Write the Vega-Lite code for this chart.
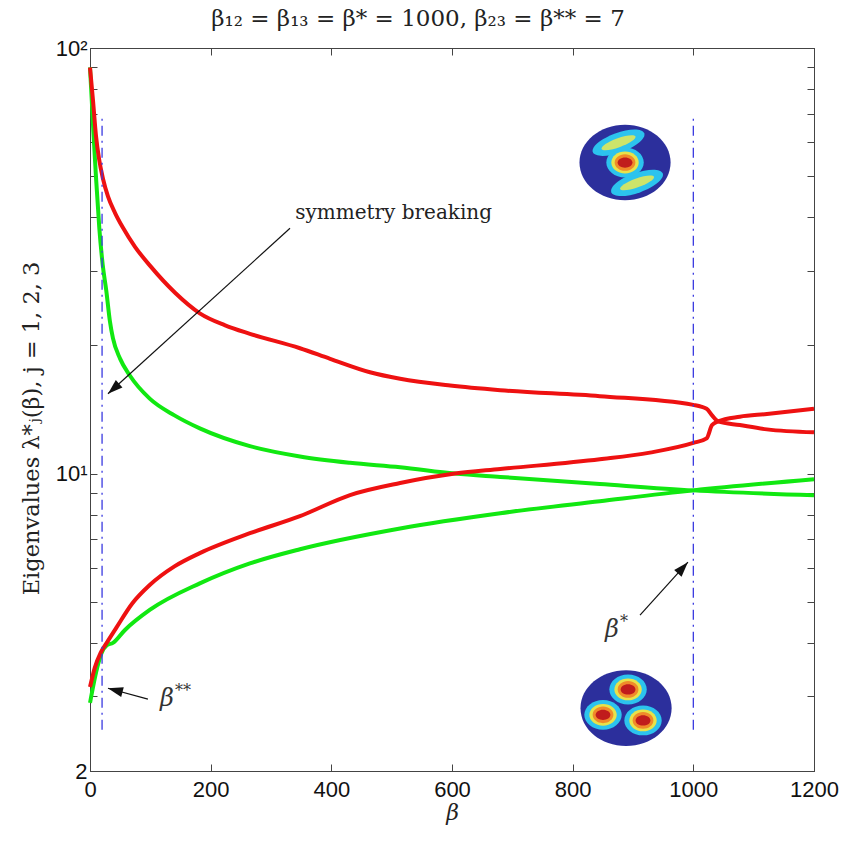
{
  "$schema": "https://vega.github.io/schema/vega-lite/v6.json",
  "width": 724,
  "height": 723,
  "autosize": "none",
  "padding": {"left": 90, "top": 48, "right": 32, "bottom": 70},
  "background": "white",
  "config": {
    "view": {"stroke": "#444", "strokeWidth": 1},
    "axis": {"grid": false, "domainColor": "#444", "tickColor": "#444", "labelColor": "#111", "labelFont": "Liberation Sans", "labelFontSize": 22, "labelFlush": false, "titleColor": "#222", "titleFontWeight": "normal"}
  },
  "title": {"text": "β₁₂ = β₁₃ = β* = 1000, β₂₃ = β** = 7", "font": "DejaVu Serif", "fontSize": 23, "fontWeight": "normal", "color": "#222", "anchor": "middle", "dx": -34, "offset": 6},
  "resolve": {"axis": {"x": "independent", "y": "independent"}},
  "layer": [
    {
      "data": {"values": [
        {"s": "g2", "beta": 0, "v": 2.89}, {"s": "g2", "beta": 5, "v": 3.15}, {"s": "g2", "beta": 12, "v": 3.5}, {"s": "g2", "beta": 19, "v": 3.78}, {"s": "g2", "beta": 28, "v": 3.95}, {"s": "g2", "beta": 38, "v": 4.0}, {"s": "g2", "beta": 58, "v": 4.29}, {"s": "g2", "beta": 99, "v": 4.78}, {"s": "g2", "beta": 182, "v": 5.52}, {"s": "g2", "beta": 265, "v": 6.15}, {"s": "g2", "beta": 348, "v": 6.64}, {"s": "g2", "beta": 514, "v": 7.43}, {"s": "g2", "beta": 680, "v": 8.07}, {"s": "g2", "beta": 845, "v": 8.61}, {"s": "g2", "beta": 1000, "v": 9.13}, {"s": "g2", "beta": 1200, "v": 9.7},
        {"s": "g1", "beta": 0, "v": 90}, {"s": "g1", "beta": 3, "v": 75}, {"s": "g1", "beta": 5.5, "v": 63.9}, {"s": "g1", "beta": 10, "v": 49.6}, {"s": "g1", "beta": 15.4, "v": 37.8}, {"s": "g1", "beta": 21, "v": 31}, {"s": "g1", "beta": 27, "v": 26.9}, {"s": "g1", "beta": 33, "v": 22.8}, {"s": "g1", "beta": 38, "v": 20.8}, {"s": "g1", "beta": 50, "v": 18.6}, {"s": "g1", "beta": 66, "v": 17.0}, {"s": "g1", "beta": 99, "v": 15.0}, {"s": "g1", "beta": 140, "v": 13.7}, {"s": "g1", "beta": 182, "v": 12.77}, {"s": "g1", "beta": 265, "v": 11.6}, {"s": "g1", "beta": 348, "v": 10.97}, {"s": "g1", "beta": 431, "v": 10.6}, {"s": "g1", "beta": 514, "v": 10.35}, {"s": "g1", "beta": 605, "v": 10.0}, {"s": "g1", "beta": 680, "v": 9.82}, {"s": "g1", "beta": 845, "v": 9.45}, {"s": "g1", "beta": 1000, "v": 9.13}, {"s": "g1", "beta": 1200, "v": 8.89},
        {"s": "r2", "beta": 0, "v": 3.15}, {"s": "r2", "beta": 8, "v": 3.5}, {"s": "r2", "beta": 18, "v": 3.8}, {"s": "r2", "beta": 30, "v": 4.05}, {"s": "r2", "beta": 44, "v": 4.35}, {"s": "r2", "beta": 70, "v": 4.95}, {"s": "r2", "beta": 99, "v": 5.47}, {"s": "r2", "beta": 140, "v": 6.05}, {"s": "r2", "beta": 182, "v": 6.5}, {"s": "r2", "beta": 265, "v": 7.24}, {"s": "r2", "beta": 348, "v": 7.94}, {"s": "r2", "beta": 431, "v": 8.9}, {"s": "r2", "beta": 514, "v": 9.5}, {"s": "r2", "beta": 605, "v": 10.0}, {"s": "r2", "beta": 680, "v": 10.25}, {"s": "r2", "beta": 845, "v": 10.8}, {"s": "r2", "beta": 928, "v": 11.2}, {"s": "r2", "beta": 1000, "v": 11.8}, {"s": "r2", "beta": 1022, "v": 12.1}, {"s": "r2", "beta": 1031, "v": 13.0}, {"s": "r2", "beta": 1041, "v": 13.26}, {"s": "r2", "beta": 1077, "v": 13.6}, {"s": "r2", "beta": 1122, "v": 13.8}, {"s": "r2", "beta": 1200, "v": 14.2},
        {"s": "r1", "beta": 0, "v": 90}, {"s": "r1", "beta": 5, "v": 75.2}, {"s": "r1", "beta": 9.9, "v": 62.2}, {"s": "r1", "beta": 14.9, "v": 55.0}, {"s": "r1", "beta": 21.5, "v": 49.3}, {"s": "r1", "beta": 29.8, "v": 44.8}, {"s": "r1", "beta": 41.4, "v": 41.0}, {"s": "r1", "beta": 54.7, "v": 37.8}, {"s": "r1", "beta": 74.6, "v": 34.1}, {"s": "r1", "beta": 99.4, "v": 30.8}, {"s": "r1", "beta": 141, "v": 26.6}, {"s": "r1", "beta": 182, "v": 23.8}, {"s": "r1", "beta": 224, "v": 22.3}, {"s": "r1", "beta": 265, "v": 21.3}, {"s": "r1", "beta": 348, "v": 19.7}, {"s": "r1", "beta": 398, "v": 18.6}, {"s": "r1", "beta": 464, "v": 17.3}, {"s": "r1", "beta": 514, "v": 16.7}, {"s": "r1", "beta": 597, "v": 16.1}, {"s": "r1", "beta": 680, "v": 15.7}, {"s": "r1", "beta": 845, "v": 15.2}, {"s": "r1", "beta": 1000, "v": 14.5}, {"s": "r1", "beta": 1022, "v": 14.2}, {"s": "r1", "beta": 1031, "v": 13.7}, {"s": "r1", "beta": 1041, "v": 13.26}, {"s": "r1", "beta": 1077, "v": 13.0}, {"s": "r1", "beta": 1122, "v": 12.7}, {"s": "r1", "beta": 1200, "v": 12.5}
      ]},
      "mark": {"type": "line", "strokeWidth": 4, "interpolate": "monotone"},
      "encoding": {
        "x": {"field": "beta", "type": "quantitative", "scale": {"domain": [0, 1200], "nice": false}, "axis": {"orient": "bottom", "values": [0, 200, 400, 600, 800, 1000, 1200], "format": "d", "tickSize": -7, "labelPadding": 15, "labelFontSize": 22, "labelFlush": false, "title": "β", "titleFont": "DejaVu Serif", "titleFontStyle": "italic", "titleFontSize": 22, "titlePadding": 2}},
        "y": {"field": "v", "type": "quantitative", "scale": {"type": "log", "domain": [2, 100], "nice": false}, "axis": {"orient": "left", "values": [2, 3, 4, 5, 6, 7, 8, 9, 10, 20, 30, 40, 50, 60, 70, 80, 90, 100], "tickSize": -7, "labelPadding": 10, "labelFontSize": 22, "labelFlush": false, "labelExpr": "datum.value == 100 ? '10²' : datum.value == 10 ? '10¹' : datum.value == 2 ? '2' : ''", "title": "Eigenvalues λ*ⱼ(β), j = 1, 2, 3", "titleFont": "DejaVu Serif", "titleFontSize": 22.5, "titlePadding": 12, "titleY": 380}},
        "color": {"field": "s", "type": "nominal", "scale": {"domain": ["g2", "g1", "r2", "r1"], "range": ["#11e811", "#11e811", "#ee1111", "#ee1111"]}, "legend": null},
        "order": {"field": "beta", "type": "quantitative"}
      }
    },
    {
      "data": {"values": [{"beta": 20, "lo": 2.5, "hi": 69}, {"beta": 1000, "lo": 2.5, "hi": 69}]},
      "mark": {"type": "rule", "color": "#3a3ae0", "strokeWidth": 1.3, "strokeDash": [10, 5, 2, 5]},
      "encoding": {
        "x": {"field": "beta", "type": "quantitative", "axis": {"orient": "top", "values": [0, 200, 400, 600, 800, 1000, 1200], "tickSize": -7, "labels": false, "title": null}},
        "y": {"field": "lo", "type": "quantitative", "axis": {"orient": "right", "values": [2, 3, 4, 5, 6, 7, 8, 9, 10, 20, 30, 40, 50, 60, 70, 80, 90, 100], "tickSize": -7, "labels": false, "title": null}},
        "y2": {"field": "hi"}
      }
    },
    {
      "data": {"values": [{"x1": 331.5, "y1": 37.7, "x2": 29.8, "y2": 15.4}, {"x1": 96, "y1": 2.95, "x2": 29.8, "y2": 3.13}, {"x1": 911.6, "y1": 4.65, "x2": 991, "y2": 6.19}]},
      "mark": {"type": "rule", "color": "#111", "strokeWidth": 1.2},
      "encoding": {
        "x": {"field": "x1", "type": "quantitative", "axis": null},
        "y": {"field": "y1", "type": "quantitative", "axis": null},
        "x2": {"field": "x2"},
        "y2": {"field": "y2"}
      }
    },
    {
      "data": {"values": [{"x": 29.8, "y": 15.4, "ang": 228}, {"x": 29.8, "y": 3.13, "ang": 285}, {"x": 991, "y": 6.19, "ang": 42}]},
      "mark": {"type": "point", "filled": true, "opacity": 1, "color": "#111", "size": 900, "shape": "M0,0L-0.33,1L0.33,1Z"},
      "encoding": {
        "x": {"field": "x", "type": "quantitative", "axis": null},
        "y": {"field": "y", "type": "quantitative", "axis": null},
        "angle": {"field": "ang", "type": "quantitative", "scale": null}
      }
    },
    {
      "data": {"values": [{"x": 340, "y": 39.7, "t": "symmetry breaking"}]},
      "mark": {"type": "text", "align": "left", "baseline": "alphabetic", "font": "DejaVu Serif", "fontSize": 20, "color": "#222"},
      "encoding": {
        "x": {"field": "x", "type": "quantitative", "axis": null},
        "y": {"field": "y", "type": "quantitative", "axis": null},
        "text": {"field": "t"}
      }
    },
    {
      "data": {"values": [{"x": 116, "y": 2.84, "t": "β"}, {"x": 853.6, "y": 4.13, "t": "β"}]},
      "mark": {"type": "text", "align": "left", "baseline": "alphabetic", "font": "DejaVu Serif", "fontStyle": "italic", "fontSize": 24, "color": "#333"},
      "encoding": {
        "x": {"field": "x", "type": "quantitative", "axis": null},
        "y": {"field": "y", "type": "quantitative", "axis": null},
        "text": {"field": "t"}
      }
    },
    {
      "data": {"values": [{"x": 116, "y": 2.84, "t": "**"}, {"x": 853.6, "y": 4.13, "t": "*"}]},
      "mark": {"type": "text", "align": "left", "baseline": "alphabetic", "font": "DejaVu Serif", "fontSize": 16, "color": "#333", "dx": 15, "dy": -10},
      "encoding": {
        "x": {"field": "x", "type": "quantitative", "axis": null},
        "y": {"field": "y", "type": "quantitative", "axis": null},
        "text": {"field": "t"}
      }
    },
    {
      "data": {"values": [{"x": 886.8, "y": 53.8}, {"x": 888.5, "y": 2.81}]},
      "mark": {"type": "point", "filled": true, "opacity": 1, "color": "#2c2f9c", "size": 8300, "shape": "M-1,0A1,0.83,0,1,1,1,0A1,0.83,0,1,1,-1,0Z"},
      "encoding": {
        "x": {"field": "x", "type": "quantitative", "axis": null},
        "y": {"field": "y", "type": "quantitative", "axis": null}
      }
    },
    {
      "data": {"values": [{"x": 876, "y": 59.9}, {"x": 906.7, "y": 48.2}]},
      "mark": {"type": "point", "filled": true, "opacity": 1, "color": "#2cc3ee", "size": 3000, "angle": -20, "shape": "M-1,0A1,0.36,0,1,1,1,0A1,0.36,0,1,1,-1,0Z"},
      "encoding": {
        "x": {"field": "x", "type": "quantitative", "axis": null},
        "y": {"field": "y", "type": "quantitative", "axis": null}
      }
    },
    {
      "data": {"values": [{"x": 876, "y": 59.9}, {"x": 906.7, "y": 48.2}]},
      "mark": {"type": "point", "filled": true, "opacity": 1, "color": "#cde46a", "size": 1300, "angle": -20, "shape": "M-1,0A1,0.25,0,1,1,1,0A1,0.25,0,1,1,-1,0Z"},
      "encoding": {
        "x": {"field": "x", "type": "quantitative", "axis": null},
        "y": {"field": "y", "type": "quantitative", "axis": null}
      }
    },
    {
      "data": {"values": [{"x": 886.8, "y": 53.8}, {"x": 891.8, "y": 3.11}, {"x": 850.3, "y": 2.71}, {"x": 916.6, "y": 2.63}]},
      "mark": {"type": "point", "filled": true, "opacity": 1, "color": "#2cc3ee", "size": 1400, "shape": "M-1,0A1,0.8,0,1,1,1,0A1,0.8,0,1,1,-1,0Z"},
      "encoding": {
        "x": {"field": "x", "type": "quantitative", "axis": null},
        "y": {"field": "y", "type": "quantitative", "axis": null}
      }
    },
    {
      "data": {"values": [{"x": 886.8, "y": 53.8}, {"x": 891.8, "y": 3.11}, {"x": 850.3, "y": 2.71}, {"x": 916.6, "y": 2.63}]},
      "mark": {"type": "point", "filled": true, "opacity": 1, "color": "#e8e24a", "size": 750, "shape": "M-1,0A1,0.8,0,1,1,1,0A1,0.8,0,1,1,-1,0Z"},
      "encoding": {
        "x": {"field": "x", "type": "quantitative", "axis": null},
        "y": {"field": "y", "type": "quantitative", "axis": null}
      }
    },
    {
      "data": {"values": [{"x": 886.8, "y": 53.8}, {"x": 891.8, "y": 3.11}, {"x": 850.3, "y": 2.71}, {"x": 916.6, "y": 2.63}]},
      "mark": {"type": "point", "filled": true, "opacity": 1, "color": "#f08a2a", "size": 430, "shape": "M-1,0A1,0.8,0,1,1,1,0A1,0.8,0,1,1,-1,0Z"},
      "encoding": {
        "x": {"field": "x", "type": "quantitative", "axis": null},
        "y": {"field": "y", "type": "quantitative", "axis": null}
      }
    },
    {
      "data": {"values": [{"x": 886.8, "y": 53.8}, {"x": 891.8, "y": 3.11}, {"x": 850.3, "y": 2.71}, {"x": 916.6, "y": 2.63}]},
      "mark": {"type": "point", "filled": true, "opacity": 1, "color": "#c01c1c", "size": 220, "shape": "M-1,0A1,0.7,0,1,1,1,0A1,0.7,0,1,1,-1,0Z"},
      "encoding": {
        "x": {"field": "x", "type": "quantitative", "axis": null},
        "y": {"field": "y", "type": "quantitative", "axis": null}
      }
    }
  ]
}
